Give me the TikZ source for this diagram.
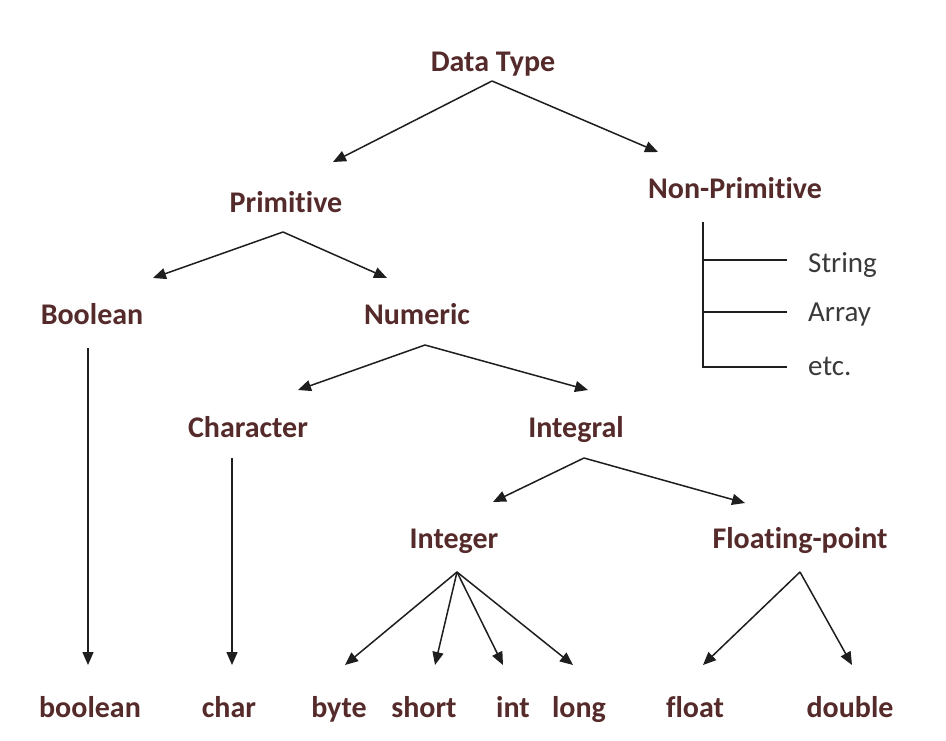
\documentclass[tikz,border=0pt]{standalone}
\usepackage{fontspec}
\setmainfont{Carlito}[RawFeature={-liga;-clig;-calt;-dlig}]
\usetikzlibrary{arrows.meta}
\definecolor{typebrown}{HTML}{552A2A}
\definecolor{itemgray}{HTML}{3A3A3A}
\definecolor{linegray}{HTML}{1E1E1E}

\begin{document}
\begin{tikzpicture}[x=1pt,y=-1pt,
	lbl/.style={anchor=base,inner sep=0pt,text=typebrown,font=\fontsize{30}{36}\selectfont\bfseries},
	item/.style={anchor=base west,inner sep=0pt,text=itemgray,font=\fontsize{29}{34}\selectfont},
	arr/.style={draw=linegray,line width=1.5pt,-{Triangle[length=13pt,width=11pt]}},
	ln/.style={draw=linegray,line width=1.5pt}]
	\useasboundingbox[fill=white] (0,0) rectangle (946,740);

	\node[lbl] (DT) at (493,71) {Data Type};
	\node[lbl] (PR) at (286,212) {Primitive};
	\node[lbl] (NP) at (735,198) {Non-Primitive};
	\node[lbl] (BO) at (92,324) {Boolean};
	\node[lbl] (NU) at (417,324) {Numeric};
	\node[lbl] (CH) at (248,437) {Character};
	\node[lbl] (IL) at (576,437) {Integral};
	\node[lbl] (IR) at (454,548) {Integer};
	\node[lbl] (FP) at (800,548) {Floating-point};

	\node[lbl] (boolean) at (90,717) {boolean};
	\node[lbl] (char) at (229,717) {char};
	\node[lbl] (byte) at (339,717) {byte};
	\node[lbl] (short) at (424,717) {short};
	\node[lbl] (int) at (513,717) {int};
	\node[lbl] (long) at (579,717) {long};
	\node[lbl] (float) at (695,717) {float};
	\node[lbl] (double) at (850,717) {double};

	\node[item] (String) at (808,272) {String};
	\node[item] (Array) at (808,321) {Array};
	\node[item] (etc) at (808,375) {etc.};

	\coordinate (DT-s) at (492,81);
	\coordinate (PR-t) at (333,162);
	\coordinate (NP-t) at (658,152);
	\coordinate (PR-s) at (283,232);
	\coordinate (BO-t) at (153,278);
	\coordinate (NU-t) at (387,278);
	\coordinate (NU-s) at (425,345);
	\coordinate (CH-t) at (298,390);
	\coordinate (IL-t) at (588,390);
	\coordinate (IL-s) at (584,458);
	\coordinate (IR-t) at (493,502);
	\coordinate (FP-t) at (745,503);
	\coordinate (IR-s) at (457,572);
	\coordinate (FP-s) at (800,572);
	\coordinate (BO-s) at (88,348);
	\coordinate (CH-s) at (232,458);
	\coordinate (boolean-t) at (88,665);
	\coordinate (char-t) at (232,665);
	\coordinate (byte-t) at (345,665);
	\coordinate (short-t) at (435,665);
	\coordinate (int-t) at (503,665);
	\coordinate (long-t) at (573,665);
	\coordinate (float-t) at (703,665);
	\coordinate (double-t) at (852,665);
	\coordinate (NP-s) at (703,222);
	\coordinate (String-l) at (787,260);
	\coordinate (Array-l) at (787,312);
	\coordinate (etc-l) at (787,367);

	\draw[arr] (DT-s) -- (PR-t);
	\draw[arr] (DT-s) -- (NP-t);
	\draw[arr] (PR-s) -- (BO-t);
	\draw[arr] (PR-s) -- (NU-t);
	\draw[arr] (NU-s) -- (CH-t);
	\draw[arr] (NU-s) -- (IL-t);
	\draw[arr] (IL-s) -- (IR-t);
	\draw[arr] (IL-s) -- (FP-t);
	\draw[arr] (BO-s) -- (boolean-t);
	\draw[arr] (CH-s) -- (char-t);
	\draw[arr] (IR-s) -- (byte-t);
	\draw[arr] (IR-s) -- (short-t);
	\draw[arr] (IR-s) -- (int-t);
	\draw[arr] (IR-s) -- (long-t);
	\draw[arr] (FP-s) -- (float-t);
	\draw[arr] (FP-s) -- (double-t);

	\draw[ln] (NP-s) |- (etc-l);
	\draw[ln] (NP-s |- String-l) -- (String-l);
	\draw[ln] (NP-s |- Array-l) -- (Array-l);
\end{tikzpicture}
\end{document}
